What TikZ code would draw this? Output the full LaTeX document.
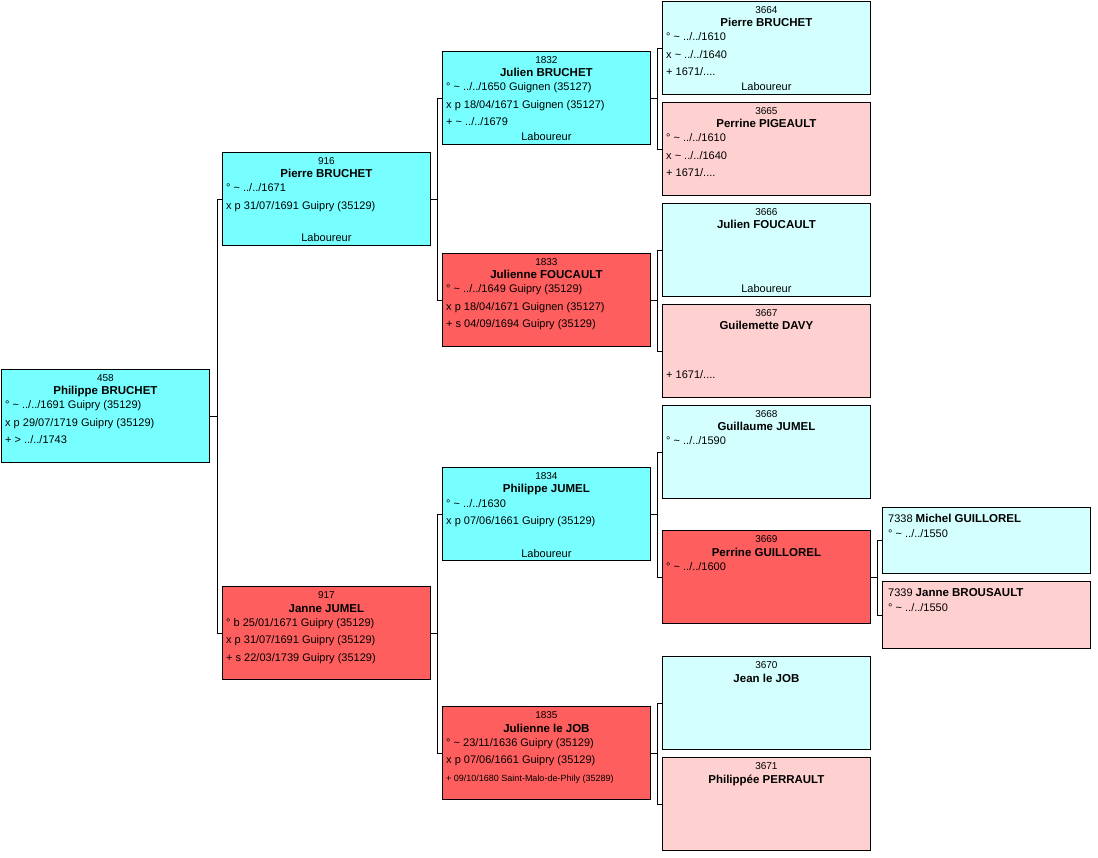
\documentclass[tikz,border=0pt]{standalone}
\usepackage{fontspec}
\setmainfont{Liberation Sans}
\definecolor{maleline}{RGB}{119,255,255}
\definecolor{femaleline}{RGB}{255,94,94}
\definecolor{malepale}{RGB}{211,255,255}
\definecolor{femalepale}{RGB}{255,208,208}
\begin{document}
\begin{tikzpicture}[x=1pt, y=-1pt,
  box/.style={draw=black, line width=0.8pt, anchor=north west, inner sep=0pt,
    minimum width=208pt, minimum height=93pt},
  num/.style={anchor=base, inner sep=0pt, font=\fontsize{10}{12}\selectfont},
  pname/.style={anchor=base, inner sep=0pt, font=\fontsize{11.5}{13}\selectfont\bfseries},
  info/.style={anchor=base west, inner sep=0pt, font=\fontsize{11}{13}\selectfont},
  job/.style={anchor=base, inner sep=0pt, font=\fontsize{11}{13}\selectfont},
  link/.style={draw=black, line width=0.7pt}]

      \useasboundingbox (0,0) rectangle (1098,858);

      % Generation 1: the person whose ancestors are shown.
      \node[box, fill=maleline] (p458) at (1,369) {};
      \node[num] (p458-no) at ([yshift=-12.5pt]p458.north) {458};
      \node[pname] (p458-nm) at ([yshift=-26pt]p458.north) {Philippe BRUCHET};
      \node[info] (p458-a) at ([xshift=4pt,yshift=-40pt]p458.north west)
      {° \textasciitilde{} ../../1691 Guipry (35129)};
      \node[info] (p458-b) at ([xshift=4pt,yshift=-57.5pt]p458.north west)
      {x p 29/07/1719 Guipry (35129)};
      \node[info] (p458-c) at ([xshift=4pt,yshift=-75pt]p458.north west)
      {+ > ../../1743};

      % Generation 2: the father.
      \node[box, fill=maleline] (p916) at (222,152) {};
      \node[num] (p916-no) at ([yshift=-12.5pt]p916.north) {916};
      \node[pname] (p916-nm) at ([yshift=-26pt]p916.north) {Pierre BRUCHET};
      \node[info] (p916-a) at ([xshift=4pt,yshift=-40pt]p916.north west)
      {° \textasciitilde{} ../../1671};
      \node[info] (p916-b) at ([xshift=4pt,yshift=-57.5pt]p916.north west)
      {x p 31/07/1691 Guipry (35129)};
      \node[job] (p916-job) at ([yshift=-90pt]p916.north) {Laboureur};

      % Generation 2: the mother.
      \node[box, fill=femaleline] (p917) at (222,586) {};
      \node[num] (p917-no) at ([yshift=-12.5pt]p917.north) {917};
      \node[pname] (p917-nm) at ([yshift=-26pt]p917.north) {Janne JUMEL};
      \node[info] (p917-a) at ([xshift=4pt,yshift=-40pt]p917.north west)
      {° b 25/01/1671 Guipry (35129)};
      \node[info] (p917-b) at ([xshift=4pt,yshift=-57.5pt]p917.north west)
      {x p 31/07/1691 Guipry (35129)};
      \node[info] (p917-c) at ([xshift=4pt,yshift=-75pt]p917.north west)
      {+ s 22/03/1739 Guipry (35129)};

      % Generation 3: the grandparents.
      \node[box, fill=maleline] (p1832) at (442,51) {};
      \node[num] (p1832-no) at ([yshift=-12.5pt]p1832.north) {1832};
      \node[pname] (p1832-nm) at ([yshift=-26pt]p1832.north) {Julien BRUCHET};
      \node[info] (p1832-a) at ([xshift=4pt,yshift=-40pt]p1832.north west)
      {° \textasciitilde{} ../../1650 Guignen (35127)};
      \node[info] (p1832-b) at ([xshift=4pt,yshift=-57.5pt]p1832.north west)
      {x p 18/04/1671 Guignen (35127)};
      \node[info] (p1832-c) at ([xshift=4pt,yshift=-75pt]p1832.north west)
      {+ \textasciitilde{} ../../1679};
      \node[job] (p1832-job) at ([yshift=-90pt]p1832.north) {Laboureur};

      \node[box, fill=femaleline] (p1833) at (442,253) {};
      \node[num] (p1833-no) at ([yshift=-12.5pt]p1833.north) {1833};
      \node[pname] (p1833-nm) at ([yshift=-26pt]p1833.north) {Julienne FOUCAULT};
      \node[info] (p1833-a) at ([xshift=4pt,yshift=-40pt]p1833.north west)
      {° \textasciitilde{} ../../1649 Guipry (35129)};
      \node[info] (p1833-b) at ([xshift=4pt,yshift=-57.5pt]p1833.north west)
      {x p 18/04/1671 Guignen (35127)};
      \node[info] (p1833-c) at ([xshift=4pt,yshift=-75pt]p1833.north west)
      {+ s 04/09/1694 Guipry (35129)};

      \node[box, fill=maleline] (p1834) at (442,467) {};
      \node[num] (p1834-no) at ([yshift=-12.5pt]p1834.north) {1834};
      \node[pname] (p1834-nm) at ([yshift=-26pt]p1834.north) {Philippe JUMEL};
      \node[info] (p1834-a) at ([xshift=4pt,yshift=-40pt]p1834.north west)
      {° \textasciitilde{} ../../1630};
      \node[info] (p1834-b) at ([xshift=4pt,yshift=-57.5pt]p1834.north west)
      {x p 07/06/1661 Guipry (35129)};
      \node[job] (p1834-job) at ([yshift=-90pt]p1834.north) {Laboureur};

      \node[box, fill=femaleline] (p1835) at (442,706) {};
      \node[num] (p1835-no) at ([yshift=-12.5pt]p1835.north) {1835};
      \node[pname] (p1835-nm) at ([yshift=-26pt]p1835.north) {Julienne le JOB};
      \node[info] (p1835-a) at ([xshift=4pt,yshift=-40pt]p1835.north west)
      {° \textasciitilde{} 23/11/1636 Guipry (35129)};
      \node[info] (p1835-b) at ([xshift=4pt,yshift=-57.5pt]p1835.north west)
      {x p 07/06/1661 Guipry (35129)};
      \node[info, font=\fontsize{9}{11}\selectfont] (p1835-c)
      at ([xshift=4pt,yshift=-75pt]p1835.north west)
      {+ 09/10/1680 Saint-Malo-de-Phily (35289)};

      % Generation 4: the great-grandparents.
      \node[box, fill=malepale] (p3664) at (662,1) {};
      \node[num] (p3664-no) at ([yshift=-12.5pt]p3664.north) {3664};
      \node[pname] (p3664-nm) at ([yshift=-26pt]p3664.north) {Pierre BRUCHET};
      \node[info] (p3664-a) at ([xshift=4pt,yshift=-40pt]p3664.north west)
      {° \textasciitilde{} ../../1610};
      \node[info] (p3664-b) at ([xshift=4pt,yshift=-57.5pt]p3664.north west)
      {x \textasciitilde{} ../../1640};
      \node[info] (p3664-c) at ([xshift=4pt,yshift=-75pt]p3664.north west)
      {+ 1671/....};
      \node[job] (p3664-job) at ([yshift=-90pt]p3664.north) {Laboureur};

      \node[box, fill=femalepale] (p3665) at (662,102) {};
      \node[num] (p3665-no) at ([yshift=-12.5pt]p3665.north) {3665};
      \node[pname] (p3665-nm) at ([yshift=-26pt]p3665.north) {Perrine PIGEAULT};
      \node[info] (p3665-a) at ([xshift=4pt,yshift=-40pt]p3665.north west)
      {° \textasciitilde{} ../../1610};
      \node[info] (p3665-b) at ([xshift=4pt,yshift=-57.5pt]p3665.north west)
      {x \textasciitilde{} ../../1640};
      \node[info] (p3665-c) at ([xshift=4pt,yshift=-75pt]p3665.north west)
      {+ 1671/....};

      \node[box, fill=malepale] (p3666) at (662,203) {};
      \node[num] (p3666-no) at ([yshift=-12.5pt]p3666.north) {3666};
      \node[pname] (p3666-nm) at ([yshift=-26pt]p3666.north) {Julien FOUCAULT};
      \node[job] (p3666-job) at ([yshift=-90pt]p3666.north) {Laboureur};

      \node[box, fill=femalepale] (p3667) at (662,304) {};
      \node[num] (p3667-no) at ([yshift=-12.5pt]p3667.north) {3667};
      \node[pname] (p3667-nm) at ([yshift=-26pt]p3667.north) {Guilemette DAVY};
      \node[info] (p3667-c) at ([xshift=4pt,yshift=-75pt]p3667.north west)
      {+ 1671/....};

      \node[box, fill=malepale] (p3668) at (662,405) {};
      \node[num] (p3668-no) at ([yshift=-12.5pt]p3668.north) {3668};
      \node[pname] (p3668-nm) at ([yshift=-26pt]p3668.north) {Guillaume JUMEL};
      \node[info] (p3668-a) at ([xshift=4pt,yshift=-40pt]p3668.north west)
      {° \textasciitilde{} ../../1590};

      \node[box, fill=femaleline] (p3669) at (662,530) {};
      \node[num] (p3669-no) at ([yshift=-12.5pt]p3669.north) {3669};
      \node[pname] (p3669-nm) at ([yshift=-26pt]p3669.north) {Perrine GUILLOREL};
      \node[info] (p3669-a) at ([xshift=4pt,yshift=-40pt]p3669.north west)
      {° \textasciitilde{} ../../1600};

      \node[box, fill=malepale] (p3670) at (662,656) {};
      \node[num] (p3670-no) at ([yshift=-12.5pt]p3670.north) {3670};
      \node[pname] (p3670-nm) at ([yshift=-26pt]p3670.north) {Jean le JOB};

      \node[box, fill=femalepale] (p3671) at (662,757) {};
      \node[num] (p3671-no) at ([yshift=-12.5pt]p3671.north) {3671};
      \node[pname] (p3671-nm) at ([yshift=-26pt]p3671.north) {Philippée PERRAULT};

      % Generation 5: only the parents of 3669 are known.
      \node[box, fill=malepale, minimum height=66pt] (p7338) at (882,507) {};
      \node[info] (p7338-nm) at ([xshift=6pt,yshift=-15pt]p7338.north west)
      {7338 {\fontsize{11.5}{13}\selectfont\bfseries Michel GUILLOREL}};
      \node[info] (p7338-a) at ([xshift=6pt,yshift=-30pt]p7338.north west)
      {° \textasciitilde{} ../../1550};

      \node[box, fill=femalepale, minimum height=67pt] (p7339) at (882,581) {};
      \node[info] (p7339-nm) at ([xshift=6pt,yshift=-15pt]p7339.north west)
      {7339 {\fontsize{11.5}{13}\selectfont\bfseries Janne BROUSAULT}};
      \node[info] (p7339-a) at ([xshift=6pt,yshift=-30pt]p7339.north west)
      {° \textasciitilde{} ../../1550};

      % Brackets joining each person to father and mother.
      \draw[link] (p916.west) -- ++(-5,0) |- (p917.west);
      \draw[link] (p458.east) -- ([xshift=-5pt]p916.west |- p458.east);

      \draw[link] (p1832.west) -- ++(-5,0) |- (p1833.west);
      \draw[link] (p916.east) -- ([xshift=-5pt]p1832.west |- p916.east);

      \draw[link] (p1834.west) -- ++(-5,0) |- (p1835.west);
      \draw[link] (p917.east) -- ([xshift=-5pt]p1834.west |- p917.east);

      \draw[link] (p3664.west) -- ++(-5,0) |- (p3665.west);
      \draw[link] (p1832.east) -- ([xshift=-5pt]p3664.west |- p1832.east);

      \draw[link] (p3666.west) -- ++(-5,0) |- (p3667.west);
      \draw[link] (p1833.east) -- ([xshift=-5pt]p3666.west |- p1833.east);

      \draw[link] (p3668.west) -- ++(-5,0) |- (p3669.west);
      \draw[link] (p1834.east) -- ([xshift=-5pt]p3668.west |- p1834.east);

      \draw[link] (p3670.west) -- ++(-5,0) |- (p3671.west);
      \draw[link] (p1835.east) -- ([xshift=-5pt]p3670.west |- p1835.east);

      \draw[link] (p7338.west) -- ++(-5,0) |- (p7339.west);
      \draw[link] (p3669.east) -- ([xshift=-5pt]p7338.west |- p3669.east);
\end{tikzpicture}
\end{document}
